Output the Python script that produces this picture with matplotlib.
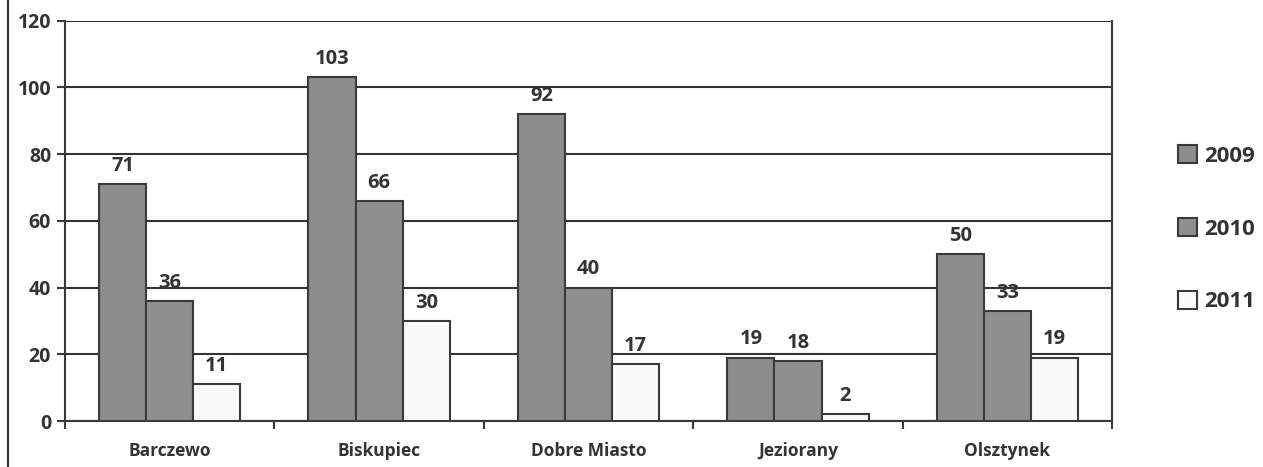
import matplotlib
matplotlib.use("Agg")
import matplotlib.pyplot as plt
import numpy as np
from matplotlib.lines import Line2D

# dane z wykresu
gminy = ["Barczewo", "Biskupiec", "Dobre Miasto", "Jeziorany", "Olsztynek"]
lata = ["2009", "2010", "2011"]
v2009 = [71, 103, 92, 19, 50]
v2010 = [36, 66, 40, 18, 33]
v2011 = [11, 30, 17, 2, 19]

plt.rcParams['font.family'] = ['Open Sans', 'DejaVu Sans']
plt.rcParams['font.weight'] = 'bold'
txt = '#333333'
edge = '#3a3a3a'

fig = plt.figure(figsize=(12.63, 4.67), dpi=100)
ax = fig.add_axes([0.0515, 0.0985, 0.829, 0.857])

x = np.arange(len(gminy))
w = 0.225
serie = [v2009, v2010, v2011]
kolory = ['#8c8c8c', '#8f8f8f', '#fafafa']

ax.set_axisbelow(True)
for i, (vals, kol, rok) in enumerate(zip(serie, kolory, lata)):
    bars = ax.bar(x + (i - 1) * w, vals, w, color=kol, edgecolor=edge,
                  linewidth=1.5, label=rok, zorder=3)
    for b, v in zip(bars, vals):
        ax.annotate(str(v), (b.get_x() + b.get_width() / 2, v),
                    xytext=(0, 6), textcoords='offset points',
                    ha='center', va='bottom', fontsize=14.5, fontweight='bold',
                    color=txt, zorder=4)

ax.set_ylim(0, 120)
ax.set_yticks(range(0, 121, 20))
ax.set_xlim(-0.5, len(gminy) - 0.5)
ax.set_xticks(x)
ax.set_xticklabels(gminy)
ax.set_xticks(np.arange(-0.5, len(gminy), 1), minor=True)
ax.tick_params(axis='x', which='major', length=0, pad=15, labelsize=12.5,
               labelcolor=txt)
ax.tick_params(axis='x', which='minor', length=6, width=1.5, color=edge,
               direction='out')
ax.tick_params(axis='y', length=6, width=1.5, color=edge, labelsize=14,
               labelcolor=txt, pad=4)
for t in ax.get_xticklabels() + ax.get_yticklabels():
    t.set_fontweight('bold')

ax.grid(axis='y', color='#333333', linewidth=1.5, zorder=0)
ax.spines['top'].set_visible(False)
for s in ['left', 'bottom', 'right']:
    ax.spines[s].set_color(edge)
    ax.spines[s].set_linewidth(1.5)

leg = ax.legend(loc='center left', bbox_to_anchor=(1.044, 0.48), frameon=False,
                fontsize=16, handlelength=0.85, handleheight=0.85,
                handletextpad=0.3, labelspacing=2.3)
for t in leg.get_texts():
    t.set_color(txt)
    t.set_fontweight('bold')

# ramka po lewej stronie (skan)
fig.add_artist(Line2D([0.0065, 0.0065], [0, 1], color='#333333',
                      linewidth=1.5, transform=fig.transFigure))

fig.savefig("out.png", dpi=100, facecolor='white')
